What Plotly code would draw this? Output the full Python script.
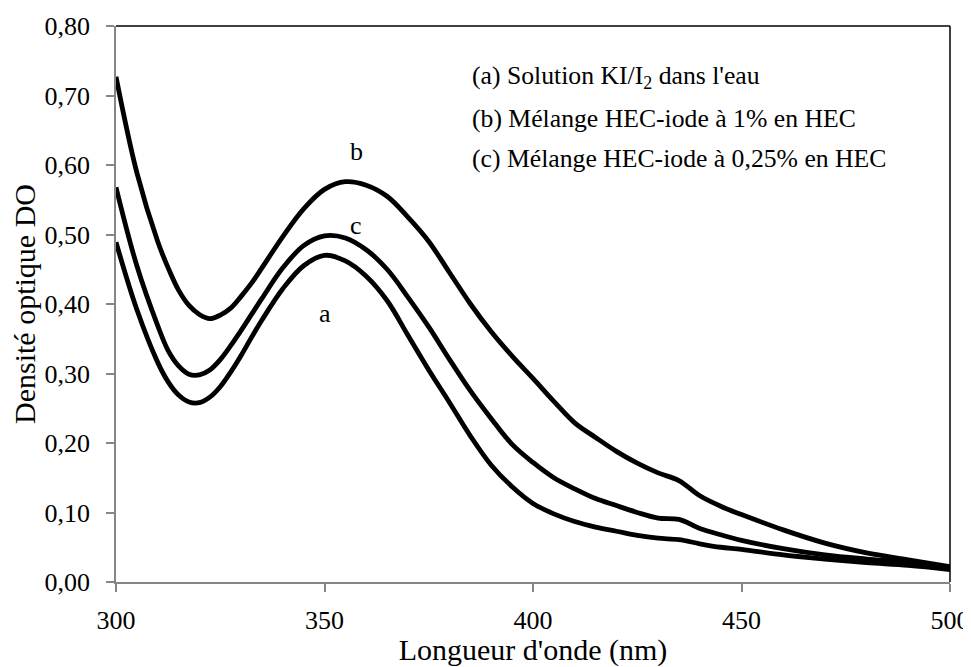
import plotly.graph_objects as go

wavelength = [300, 305, 310, 312.5, 315, 317.5, 320, 322.5, 325, 327.5, 330, 332.5, 335,
              340, 345, 350, 355, 360, 365, 370, 375, 380, 385, 390, 395, 400, 405, 410,
              415, 420, 425, 430, 435, 440, 445, 450, 460, 470, 480, 490, 500]

do_a = [0.489, 0.392, 0.316, 0.288, 0.269, 0.259, 0.258, 0.266, 0.281, 0.302, 0.326, 0.352, 0.377,
        0.422, 0.455, 0.470, 0.462, 0.440, 0.405, 0.355, 0.305, 0.258, 0.210, 0.168, 0.137,
        0.113, 0.098, 0.087, 0.079, 0.073, 0.067, 0.063, 0.061, 0.055, 0.050, 0.047, 0.039,
        0.033, 0.028, 0.024, 0.018]

do_b = [0.727, 0.589, 0.490, 0.452, 0.420, 0.398, 0.385, 0.379, 0.384, 0.394, 0.411, 0.430, 0.452,
        0.497, 0.537, 0.565, 0.576, 0.571, 0.555, 0.525, 0.490, 0.445, 0.400, 0.360, 0.325,
        0.293, 0.260, 0.229, 0.208, 0.188, 0.171, 0.157, 0.146, 0.124, 0.109, 0.097, 0.075,
        0.056, 0.042, 0.032, 0.022]

do_c = [0.568, 0.455, 0.369, 0.333, 0.311, 0.299, 0.298, 0.305, 0.320, 0.340, 0.362, 0.385, 0.408,
        0.452, 0.484, 0.498, 0.495, 0.478, 0.450, 0.410, 0.367, 0.320, 0.275, 0.235, 0.198,
        0.172, 0.150, 0.134, 0.120, 0.110, 0.100, 0.092, 0.090, 0.077, 0.068, 0.060, 0.048,
        0.039, 0.033, 0.028, 0.020]

curve_labels = ["a", "b", "c"]
label_x = [350, 357.7, 357.5]
label_y = [0.387, 0.620, 0.513]

legend_lines = ["(a) Solution KI/I<sub>2</sub> dans l'eau",
                "(b) Mélange HEC-iode à 1% en HEC",
                "(c) Mélange HEC-iode à 0,25% en HEC"]
legend_y = [0.727, 0.667, 0.609]
legend_x = 384.9

x_title = "Longueur d'onde (nm)"
y_title = "Densité optique DO"

FONT = "Liberation Serif"
GRAY = "#868686"

fig = go.Figure()
for ys in (do_a, do_b, do_c):
    fig.add_trace(go.Scatter(x=wavelength, y=ys, mode="lines",
                             line=dict(color="black", width=4.8, shape="spline", smoothing=1.0),
                             showlegend=False, hoverinfo="skip"))

for t, xx, yy in zip(curve_labels, label_x, label_y):
    fig.add_annotation(x=xx, y=yy, text=t, showarrow=False,
                       font=dict(family=FONT, size=26, color="black"))

for t, yy in zip(legend_lines, legend_y):
    fig.add_annotation(x=legend_x, y=yy, text=t, showarrow=False, xanchor="left",
                       font=dict(family=FONT, size=25.7, color="black"))

# top and right border of the plot area
fig.add_shape(type="line", xref="paper", yref="paper", x0=0, x1=1, y0=1, y1=1,
              line=dict(color="black", width=1.5))
fig.add_shape(type="line", xref="paper", yref="paper", x0=1, x1=1, y0=0, y1=1,
              line=dict(color="black", width=1.5))

fig.update_layout(
    width=963, height=659,
    margin=dict(l=108, r=21, t=18, b=85),
    paper_bgcolor="white", plot_bgcolor="white",
    separators=", ",
    font=dict(family=FONT, color="black", size=26),
    xaxis=dict(range=[300, 500], tickvals=[300, 350, 400, 450, 500], ticks="outside",
               ticklen=8, tickcolor=GRAY, tickwidth=1.5, showline=True, linecolor=GRAY,
               linewidth=1.5, showgrid=False, zeroline=False, ticklabelstandoff=6,
               tickfont=dict(family=FONT, size=26, color="black"),
               title=dict(text=x_title, font=dict(family=FONT, size=30, color="black"), standoff=8),
               automargin=False),
    yaxis=dict(range=[0, 0.8], dtick=0.1, tickformat=".2f", ticks="outside",
               ticklen=8, tickcolor=GRAY, tickwidth=1.5, showline=True, linecolor=GRAY,
               linewidth=1.5, showgrid=False, zeroline=False, ticklabelstandoff=11,
               tickfont=dict(family=FONT, size=26, color="black"),
               title=dict(text=y_title, font=dict(family=FONT, size=30, color="black"), standoff=2),
               automargin=False),
)

fig.write_html("out.html")
